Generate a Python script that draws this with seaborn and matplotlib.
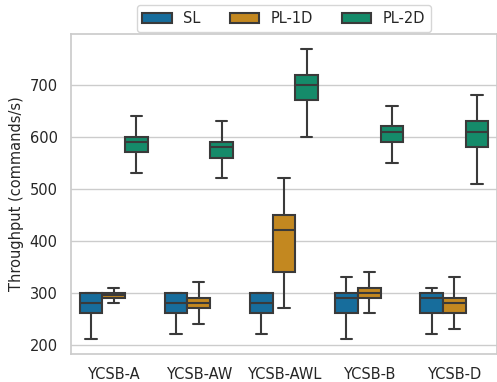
import numpy as np
import matplotlib
matplotlib.use("Agg")
import matplotlib.pyplot as plt
import pandas as pd
import seaborn as sns

workloads = ["YCSB-A", "YCSB-AW", "YCSB-AWL", "YCSB-B", "YCSB-D"]
series = ["SL", "PL-1D", "PL-2D"]

# per workload: min, q1, median, q3, max
sl_stats = [
    [210, 260, 280, 300, 300],
    [220, 260, 280, 300, 300],
    [220, 260, 280, 300, 300],
    [210, 260, 290, 300, 330],
    [220, 260, 290, 300, 310],
]
pl1d_stats = [
    [280, 290, 295, 300, 310],
    [240, 270, 280, 290, 320],
    [270, 340, 420, 450, 520],
    [260, 290, 300, 310, 340],
    [230, 260, 280, 290, 330],
]
pl2d_stats = [
    [530, 570, 590, 600, 640],
    [520, 560, 580, 590, 630],
    [600, 670, 700, 720, 770],
    [550, 590, 610, 620, 660],
    [510, 580, 610, 630, 680],
]

rows = []
for name, stats in zip(series, [sl_stats, pl1d_stats, pl2d_stats]):
    for wl, vals in zip(workloads, stats):
        for v in vals:
            rows.append({"workload": wl, "mode": name, "throughput": v})
df = pd.DataFrame(rows)

sns.set_theme(style="whitegrid")
fig = plt.figure(figsize=(4.97, 3.82), dpi=100)
ax = fig.add_axes([71 / 497, 28 / 382, 426 / 497, 320 / 382])

sns.boxplot(data=df, x="workload", y="throughput", hue="mode",
            order=workloads, hue_order=series, palette="colorblind",
            whis=(0, 100), linewidth=1.5, linecolor="#3a3a3a", ax=ax)

ax.set_xlabel("")
ax.set_ylabel("Throughput (commands/s)", fontsize=10.5)
ax.tick_params(axis="both", labelsize=10.5)
ax.set_yticks([200, 300, 400, 500, 600, 700])
ax.legend(loc="lower center", bbox_to_anchor=(0.5, 1.0), ncol=3,
          fontsize=10.5, frameon=True, borderaxespad=0.15)

fig.savefig("out.png", dpi=100)
